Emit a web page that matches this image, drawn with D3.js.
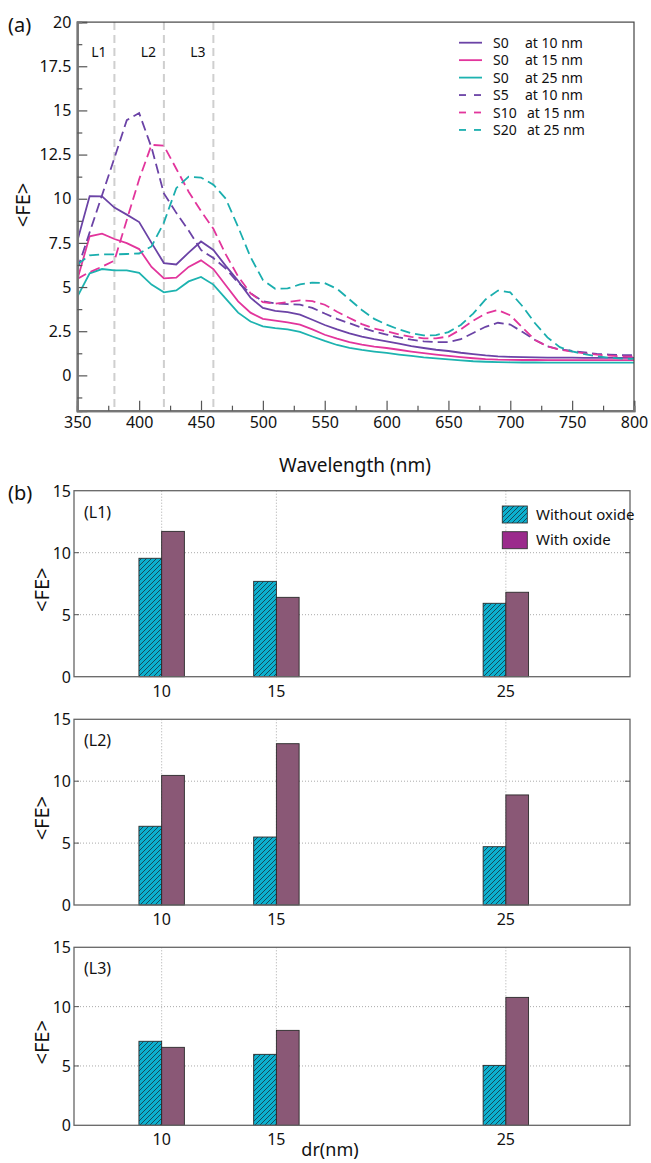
<!DOCTYPE html>
<html><head><meta charset="utf-8">
<script src="https://cdn.jsdelivr.net/npm/d3@7"></script>
<style>
body{margin:0;background:#fff;}
text{font-family:"Noto Sans",sans-serif;fill:#111;}
</style>
</head><body>
<svg id="c" width="651" height="1163"></svg>
<script>
// ---------- DATA (panel a) ----------
const wavelengths=[350,360,370,380,390,400,410,420,430,440,450,460,470,480,490,500,510,520,530,540,550,560,570,580,590,600,610,620,630,640,650,660,670,680,690,700,710,720,730,740,750,760,770,780,790,800];
const s0_10nm=[7.6,10.15,10.13,9.5,9.1,8.68,7.5,6.36,6.28,6.95,7.58,7.1,6.2,5.35,4.4,3.82,3.65,3.58,3.44,3.15,2.85,2.6,2.38,2.2,2.05,1.93,1.8,1.65,1.55,1.45,1.38,1.28,1.2,1.13,1.08,1.05,1.03,1.02,1.0,1.0,1.0,0.99,0.99,0.99,0.99,0.99];
const s0_15nm=[5.42,7.87,8.02,7.72,7.49,7.15,6.14,5.49,5.53,6.14,6.51,6.02,5.1,4.19,3.55,3.2,3.1,3.0,2.87,2.6,2.3,2.08,1.88,1.74,1.63,1.55,1.45,1.35,1.26,1.18,1.1,1.03,0.97,0.92,0.89,0.88,0.87,0.87,0.86,0.86,0.86,0.86,0.86,0.86,0.86,0.86];
const s0_25nm=[4.44,5.78,6.02,5.94,5.94,5.8,5.14,4.7,4.81,5.32,5.57,5.14,4.35,3.55,3.05,2.78,2.68,2.6,2.46,2.2,1.95,1.72,1.56,1.44,1.35,1.27,1.18,1.1,1.02,0.96,0.9,0.85,0.8,0.77,0.75,0.74,0.73,0.73,0.72,0.72,0.72,0.72,0.72,0.72,0.72,0.72];
const s5_10nm=[6.0,8.1,10.2,12.3,14.45,14.85,12.9,10.3,9.2,8.2,7.1,6.64,6.05,5.25,4.65,4.19,4.08,4.03,4.0,3.82,3.5,3.2,2.95,2.7,2.48,2.31,2.15,2.02,1.93,1.88,1.88,2.05,2.4,2.75,2.98,2.88,2.45,2.0,1.65,1.47,1.38,1.3,1.22,1.18,1.15,1.14];
const s10_15nm=[5.46,5.85,6.15,6.5,8.8,11.1,13.05,13.0,11.7,10.4,9.3,8.3,6.85,5.6,4.65,4.14,4.06,4.15,4.25,4.2,4.0,3.6,3.25,2.9,2.65,2.49,2.32,2.18,2.1,2.1,2.2,2.6,3.1,3.5,3.7,3.4,2.7,2.0,1.65,1.45,1.35,1.25,1.17,1.12,1.08,1.05];
const s20_25nm=[6.27,6.8,6.85,6.85,6.87,6.9,7.3,8.65,10.6,11.25,11.2,10.8,10.0,8.4,6.7,5.4,4.9,4.92,5.15,5.25,5.22,4.9,4.3,3.7,3.2,2.87,2.6,2.38,2.26,2.28,2.45,2.85,3.5,4.3,4.8,4.7,3.9,2.95,2.15,1.6,1.36,1.2,1.08,1.0,0.95,0.93];
const seriesNames=["S0","S0","S0","S5","S10","S20"];
const seriesSizes=["at 10 nm","at 15 nm","at 25 nm","at 10 nm","at 15 nm","at 25 nm"];
const xTicksA=[350,400,450,500,550,600,650,700,750,800];
const yTicksA=[0,2.5,5,7.5,10,12.5,15,17.5,20];
const markerLines=[380,420,460];
const markerLabels=["L1","L2","L3"];
// ---------- DATA (panel b) ----------
const drValues=[10,15,25];
const drTickLabels=["10","15","25"];
const panelLabels=["(L1)","(L2)","(L3)"];
const L1_without=[9.55,7.69,5.92];
const L1_with=[11.72,6.40,6.81];
const L2_without=[6.36,5.49,4.71];
const L2_with=[10.47,13.03,8.89];
const L3_without=[7.08,5.98,5.05];
const L3_with=[6.57,8.0,10.78];
const barYTicks=[0,5,10,15];
const legendNames=["Without oxide","With oxide"];

const svg=d3.select("#c");
const defs=svg.append("defs");
const purple="#6b43a6", magenta="#e2359c", teal="#1db3b0";
const cyan="#0cb0cf", mauve="#8a5876", legendMauve="#9b2a8c";

// hatch pattern
const pat=defs.append("pattern").attr("id","hatch").attr("patternUnits","userSpaceOnUse")
  .attr("width",5).attr("height",5);
pat.append("rect").attr("width",5).attr("height",5).attr("fill",cyan);
pat.append("path").attr("d","M0,5 L5,0 M-1,1 L1,-1 M4,6 L6,4").attr("stroke","#17323f").attr("stroke-width",0.8);

// ---------- PANEL A ----------
const ax={l:77.3,r:634,t:22.1,b:410.7};
const x=d3.scaleLinear().domain([350,800]).range([ax.l,ax.r]);
const y=d3.scaleLinear().domain([-2,20]).range([ax.b,ax.t]);
const ga=svg.append("g");
defs.append("clipPath").attr("id","clipA").append("rect")
  .attr("x",ax.l).attr("y",ax.t).attr("width",ax.r-ax.l).attr("height",ax.b-ax.t);

// marker lines
ga.selectAll(".mk").data(markerLines).enter().append("line")
  .attr("x1",d=>x(d)).attr("x2",d=>x(d)).attr("y1",y(20)).attr("y2",y(-2))
  .attr("stroke","#cfcfcf").attr("stroke-width",2).attr("stroke-dasharray","8,5");
ga.selectAll(".mkl").data(markerLines).enter().append("text")
  .attr("x",d=>x(d-12.5)).attr("y",57).attr("text-anchor","middle")
  .style("font-size","14px").text((d,i)=>markerLabels[i]);

const allSeries=[
 {v:s0_10nm,c:purple,dash:null},
 {v:s0_15nm,c:magenta,dash:null},
 {v:s0_25nm,c:teal,dash:null},
 {v:s5_10nm,c:purple,dash:"10,5"},
 {v:s10_15nm,c:magenta,dash:"10,5"},
 {v:s20_25nm,c:"#1aaeae",dash:"10,5"}
];
const line=d3.line().x((d,i)=>x(wavelengths[i])).y(d=>y(d));
const lg=ga.append("g").attr("clip-path","url(#clipA)");
allSeries.forEach(s=>{
  lg.append("path").datum(s.v).attr("d",line).attr("fill","none")
    .attr("stroke",s.c).attr("stroke-width",1.8)
    .attr("stroke-dasharray",s.dash);
});

// frame
ga.append("rect").attr("x",ax.l).attr("y",ax.t).attr("width",ax.r-ax.l).attr("height",ax.b-ax.t)
  .attr("fill","none").attr("stroke","#444").attr("stroke-width",1.2);
// axes
const minorX=[];for(let i=0;i<xTicksA.length-1;i++)minorX.push((xTicksA[i]+xTicksA[i+1])/2);
const minorY=[-1.25];for(let i=0;i<yTicksA.length-1;i++)minorY.push((yTicksA[i]+yTicksA[i+1])/2);
ga.append("g").attr("transform",`translate(0,${ax.b})`)
  .call(d3.axisBottom(x).tickValues(xTicksA).tickSize(-10).tickPadding(6).tickFormat(d3.format("d")));
ga.append("g").attr("transform",`translate(0,${ax.b})`)
  .call(d3.axisBottom(x).tickValues(minorX).tickSize(-5).tickFormat(""));
ga.append("g").attr("transform",`translate(${ax.l},0)`)
  .call(d3.axisLeft(y).tickValues(yTicksA).tickSize(-10).tickPadding(6).tickFormat(d=>String(d)));
ga.append("g").attr("transform",`translate(${ax.l},0)`)
  .call(d3.axisLeft(y).tickValues(minorY).tickSize(-5).tickFormat(""));
ga.selectAll(".domain").attr("stroke","#777").attr("stroke-width",2);
ga.selectAll(".tick line").attr("stroke","#555").attr("stroke-width",1.2);
ga.selectAll(".tick text").style("font-size","16px").style("font-family","'Noto Sans',sans-serif").attr("fill","#111");

// axis titles
ga.append("text").attr("x",355).attr("y",472).attr("text-anchor","middle").style("font-size","19px").text("Wavelength (nm)");
ga.append("text").attr("transform","translate(30,205) rotate(-90)").attr("text-anchor","middle").style("font-size","20px").text("<FE>");
ga.append("text").attr("x",8).attr("y",32).style("font-size","20px").text("(a)");

// legend
const leg=ga.append("g");
allSeries.forEach((s,i)=>{
  const yy=42.7+i*17.45;
  if(s.dash){
    leg.append("line").attr("x1",459).attr("x2",466).attr("y1",yy).attr("y2",yy).attr("stroke",s.c).attr("stroke-width",1.8);
    leg.append("line").attr("x1",474).attr("x2",481).attr("y1",yy).attr("y2",yy).attr("stroke",s.c).attr("stroke-width",1.8);
  } else {
    leg.append("line").attr("x1",459).attr("x2",482).attr("y1",yy).attr("y2",yy).attr("stroke",s.c).attr("stroke-width",1.8);
  }
  leg.append("text").attr("x",493).attr("y",yy+5).style("font-size","14px").text(seriesNames[i]);
  leg.append("text").attr("x",seriesNames[i].length>2?527:525).attr("y",yy+5).style("font-size","14px").text(seriesSizes[i]);
});

// ---------- PANEL B ----------
const xb=d3.scaleLinear().domain([6.18,30.41]).range([74,630]);
function barPanel(top,bottom,label,without,withO,showLegend){
  const g=svg.append("g");
  const yb=d3.scaleLinear().domain([0,15]).range([bottom,top]);
  g.selectAll(".gh").data([5,10]).enter().append("line")
    .attr("x1",xb.range()[0]).attr("x2",xb.range()[1]).attr("y1",d=>yb(d)).attr("y2",d=>yb(d))
    .attr("stroke","#aaa").attr("stroke-width",1).attr("stroke-dasharray","1,2");
  g.selectAll(".gv").data(drValues).enter().append("line")
    .attr("x1",d=>xb(d)).attr("x2",d=>xb(d)).attr("y1",top).attr("y2",bottom)
    .attr("stroke","#aaa").attr("stroke-width",1).attr("stroke-dasharray","1,2");
  g.selectAll(".bw").data(without).enter().append("rect")
    .attr("x",(d,i)=>xb(drValues[i]-0.99)).attr("width",xb(1)-xb(0.01))
    .attr("y",d=>yb(d)).attr("height",d=>yb(0)-yb(d))
    .attr("fill","url(#hatch)").attr("stroke","#2a2a2a").attr("stroke-width",0.9);
  g.selectAll(".bo").data(withO).enter().append("rect")
    .attr("x",(d,i)=>xb(drValues[i])).attr("width",xb(1)-xb(0.01))
    .attr("y",d=>yb(d)).attr("height",d=>yb(0)-yb(d))
    .attr("fill",mauve).attr("stroke","#2a2a2a").attr("stroke-width",0.9);
  g.append("rect").attr("x",74).attr("y",top).attr("width",630-74).attr("height",bottom-top)
    .attr("fill","none").attr("stroke","#666").attr("stroke-width",1.3);
  g.selectAll(".tl").data([5,10]).enter().append("line")
    .attr("x1",74).attr("x2",79).attr("y1",d=>yb(d)).attr("y2",d=>yb(d)).attr("stroke","#555");
  g.selectAll(".tr").data([5,10]).enter().append("line")
    .attr("x1",625).attr("x2",630).attr("y1",d=>yb(d)).attr("y2",d=>yb(d)).attr("stroke","#555");
  g.selectAll(".yl").data(barYTicks).enter().append("text")
    .attr("x",71).attr("y",d=>yb(d)+6).attr("text-anchor","end").style("font-size","16px").text(d=>d);
  g.selectAll(".xl").data(drValues).enter().append("text")
    .attr("x",d=>xb(d)).attr("y",bottom+20).attr("text-anchor","middle").style("font-size","16px").text((d,i)=>drTickLabels[i]);
  g.append("text").attr("x",84).attr("y",top+27).style("font-size","16px").text(label);
  g.append("text").attr("transform",`translate(49,${(top+bottom)/2+6}) rotate(-90)`).attr("text-anchor","middle").style("font-size","20px").text("<FE>");
  if(showLegend){
    g.append("rect").attr("x",502.3).attr("y",506).attr("width",25).attr("height",17)
      .attr("fill","url(#hatch)").attr("stroke","#333").attr("stroke-width",0.9);
    g.append("rect").attr("x",502.3).attr("y",531.7).attr("width",25).attr("height",17)
      .attr("fill",legendMauve).attr("stroke","#333").attr("stroke-width",0.9);
    g.append("text").attr("x",536).attr("y",519.5).style("font-size","15px").text(legendNames[0]);
    g.append("text").attr("x",536).attr("y",545).style("font-size","15px").text(legendNames[1]);
  }
}
barPanel(490.7,676.7,panelLabels[0],L1_without,L1_with,true);
barPanel(719.3,905,panelLabels[1],L2_without,L2_with,false);
barPanel(947.3,1125.3,panelLabels[2],L3_without,L3_with,false);
svg.append("text").attr("x",8).attr("y",500).style("font-size","20px").text("(b)");
svg.append("text").attr("x",330).attr("y",1156).attr("text-anchor","middle").style("font-size","18px").text("dr(nm)");
</script>
</body></html>
